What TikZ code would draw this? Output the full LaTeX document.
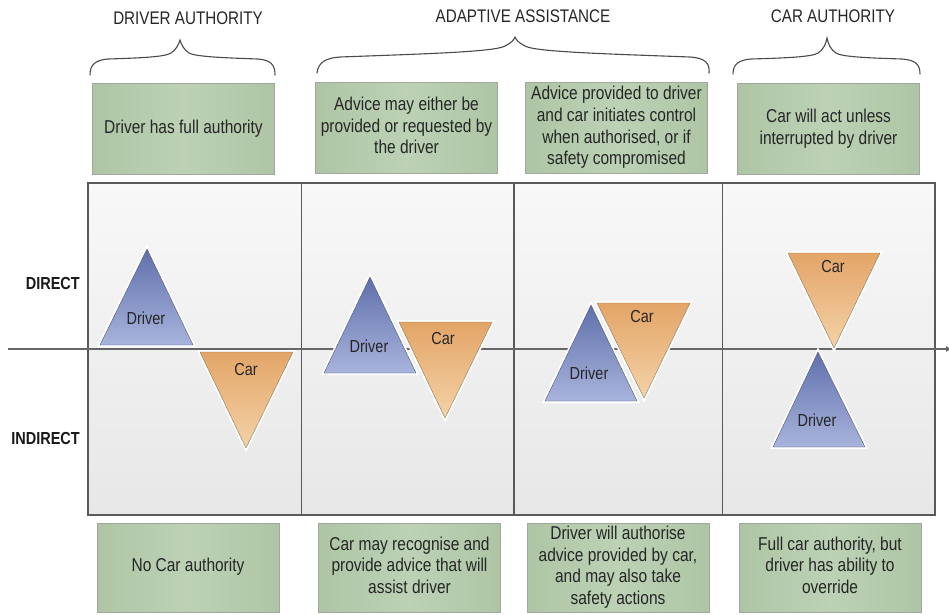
\documentclass[tikz,border=0pt]{standalone}
\usepackage{fontspec}
\setmainfont{Liberation Sans}
\usepackage{graphicx}
\usetikzlibrary{arrows.meta}

\definecolor{boxgreen}{HTML}{BDD2B5}
\definecolor{boxedge}{HTML}{AEC5A5}
\definecolor{boxline}{HTML}{A2A89F}
\definecolor{drvtop}{HTML}{6070AC}
\definecolor{drvbot}{HTML}{A8B4DC}
\definecolor{drvline}{HTML}{4F5877}
\definecolor{cartop}{HTML}{E3A567}
\definecolor{carbot}{HTML}{F4D2A8}
\definecolor{carline}{HTML}{8B7758}
\definecolor{paneltop}{HTML}{F8F8F8}
\definecolor{panelbot}{HTML}{E7E7E7}
\definecolor{inkgray}{HTML}{4A4A4A}

\newcommand{\stretched}[1]{\scalebox{1}[1.2]{\begin{tabular}{@{}c@{}}#1\end{tabular}}}

\tikzset{
	greenbox/.style={draw=boxline, left color=boxedge, right color=boxedge, middle color=boxgreen,
		minimum width=182pt, minimum height=91pt, inner sep=0pt,
		font=\fontsize{15.5}{18}\selectfont, text=black!85},
	heading/.style={font=\fontsize{15.2}{18}\selectfont, text=black!85},
	levellabel/.style={font=\bfseries\fontsize{14.5}{18}\selectfont, text=black!90, anchor=east, inner sep=0pt},
	trilabel/.style={font=\fontsize{14.5}{17}\selectfont, text=black!85, inner sep=0pt},
	drivertri/.style={preaction={draw=white, line width=4pt}, draw=drvline, top color=drvtop, bottom color=drvbot},
	cartri/.style={preaction={draw=white, line width=4pt}, draw=carline, top color=cartop, bottom color=carbot},
	brace/.style={draw=inkgray, line width=1.1pt, line cap=round},
	frame/.style={draw=black!65, line width=1.2pt}
}

\begin{document}
\begin{tikzpicture}[x=1pt, y=-1pt]
				\useasboundingbox (0,0) rectangle (949,614);
				
				\node[heading] (hDriver) at (188,20) {\stretched{DRIVER AUTHORITY}};
				\node[heading] (hAdaptive) at (523,18) {\stretched{ADAPTIVE ASSISTANCE}};
				\node[heading] (hCar) at (833,18) {\stretched{CAR AUTHORITY}};
				
				\draw[brace] (90,75) .. controls (90,65) and (95,60) .. (108,59) .. controls (140,58) and (165,57) .. (171,53)
					.. controls (176,50) and (179,44) .. (180,40) .. controls (181,44) and (184,50) .. (189,53)
					.. controls (196,57) and (230,58) .. (258,59) .. controls (271,60) and (275,65) .. (275,75);
				\draw[brace] (317,73) .. controls (318,63) and (325,58) .. (340,57) .. controls (420,54) and (495,52) .. (505,46)
					.. controls (511,43) and (514,40) .. (515,37) .. controls (516,40) and (519,43) .. (525,46)
					.. controls (535,52) and (610,54) .. (690,57) .. controls (705,58) and (710,63) .. (709,73);
				\draw[brace] (733,74) .. controls (733,64) and (739,60) .. (751,59) .. controls (785,58) and (812,57) .. (818,53)
					.. controls (823,50) and (826,44) .. (827,38) .. controls (828,44) and (831,50) .. (836,53)
					.. controls (842,57) and (870,58) .. (902,59) .. controls (915,60) and (920,64) .. (920,74);
				
				\node[greenbox] (top1) at (183.5,129) {\stretched{Driver has full authority}};
				\node[greenbox] (top2) at (406.5,128) {\stretched{Advice may either be\\provided or requested by\\the driver}};
				\node[greenbox] (top3) at (616.5,128) {\stretched{Advice provided to driver\\and car initiates control\\when authorised, or if\\safety compromised}};
				\node[greenbox] (top4) at (828.5,129) {\stretched{Car will act unless\\interrupted by driver}};
				
				\coordinate (pTL) at (88,183);
				\coordinate (pBR) at (935,515);
				\shade[top color=paneltop, bottom color=panelbot] (pTL) rectangle (pBR);
				\foreach \x in {301.5,514,722.5}
					\draw[frame] (\x,183) -- (\x,515);
				\draw[frame] (pTL) rectangle (pBR);
				
				\coordinate (axL) at (8,349);
				\coordinate (axR) at (952,349);
				\draw[draw=black!60, line width=1.1pt, -{Latex[length=6pt,width=6pt]}] (axL) -- (axR);
				
				\node[levellabel] (direct) at (80,285) {\stretched{DIRECT}};
				\node[levellabel] (indirect) at (80,440) {\stretched{INDIRECT}};
				
				\path[drivertri] (147,249) -- (193,345) -- (100,345) -- cycle;
				\path[cartri] (200,352) -- (293,352) -- (246,448) -- cycle;
				\node[trilabel] (drv1) at (146,320) {\stretched{Driver}};
				\node[trilabel] (car1) at (246,371) {\stretched{Car}};
				
				\path[drivertri] (370,277) -- (416,373) -- (324,373) -- cycle;
				\path[cartri] (399,322) -- (492,322) -- (445,418) -- cycle;
				\node[trilabel] (drv2) at (369,348) {\stretched{Driver}};
				\node[trilabel] (car2) at (443,340) {\stretched{Car}};
				
				\path[drivertri] (591,305) -- (637,401) -- (545,401) -- cycle;
				\path[cartri] (597,303) -- (690,303) -- (644,398) -- cycle;
				\node[trilabel] (drv3) at (589,375) {\stretched{Driver}};
				\node[trilabel] (car3) at (642,318) {\stretched{Car}};
				
				\path[cartri] (788,253) -- (880,253) -- (834,348) -- cycle;
				\path[drivertri] (818,352) -- (865,447) -- (773,447) -- cycle;
				\node[trilabel] (car4) at (833,268) {\stretched{Car}};
				\node[trilabel] (drv4) at (817,422) {\stretched{Driver}};
				
				\node[greenbox, minimum height=89pt] (bot1) at (188,567.5) {\stretched{No Car authority}};
				\node[greenbox, minimum height=89pt] (bot2) at (409.5,567.5) {\stretched{Car may recognise and\\provide advice that will\\assist driver}};
				\node[greenbox, minimum height=89pt] (bot3) at (618,567.5) {\stretched{Driver will authorise\\advice provided by car,\\and may also take\\safety actions}};
				\node[greenbox, minimum height=89pt] (bot4) at (830,567.5) {\stretched{Full car authority, but\\driver has ability to\\override}};
\end{tikzpicture}
\end{document}
